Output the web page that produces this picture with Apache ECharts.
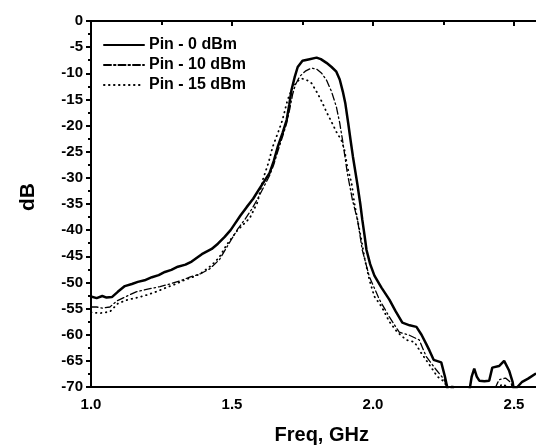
<!DOCTYPE html>
<html>
<head>
<meta charset="utf-8">
<script src="https://cdn.jsdelivr.net/npm/echarts@6/dist/echarts.min.js"></script>
<style>
  html, body { margin: 0; padding: 0; background: #fff; }
  #chart { width: 536px; height: 448px; }
</style>
</head>
<body>
<div id="chart"></div>
<script>
let FONT = '"Liberation Sans", Arial, sans-serif';

let seriesNames = ['Pin - 0 dBm', 'Pin - 10 dBm', 'Pin - 15 dBm'];

// [GHz, dB]
let pin0 = [
  [1.000, -52.7], [1.020, -53.0], [1.040, -52.6], [1.055, -52.9], [1.074, -52.8],
  [1.095, -51.8], [1.120, -50.7], [1.145, -50.3], [1.166, -49.9], [1.190, -49.6],
  [1.216, -49.0], [1.240, -48.6], [1.262, -48.0], [1.285, -47.6], [1.308, -47.0],
  [1.335, -46.6], [1.357, -46.0], [1.393, -44.6], [1.428, -43.6], [1.450, -42.6],
  [1.474, -41.3], [1.495, -40.0], [1.510, -38.8], [1.530, -37.2], [1.552, -35.6],
  [1.575, -34.0], [1.598, -32.0], [1.615, -30.6], [1.633, -29.1], [1.648, -26.8],
  [1.662, -24.1], [1.680, -21.3], [1.694, -18.9], [1.703, -16.0], [1.711, -13.2],
  [1.722, -10.8], [1.733, -8.8], [1.750, -7.6], [1.775, -7.3], [1.800, -7.0],
  [1.815, -7.3], [1.835, -8.0], [1.853, -8.8], [1.870, -9.7], [1.882, -11.2],
  [1.893, -13.5], [1.902, -15.8], [1.912, -19.5], [1.921, -23.0], [1.929, -26.0],
  [1.944, -31.0], [1.955, -35.0], [1.962, -38.0], [1.970, -41.0], [1.977, -43.8],
  [1.990, -46.5], [2.005, -48.7], [2.030, -51.0], [2.058, -53.3], [2.080, -55.5],
  [2.104, -57.7], [2.130, -58.2], [2.154, -58.5], [2.172, -60.0], [2.189, -61.8],
  [2.200, -63.0], [2.215, -64.8], [2.242, -65.3], [2.255, -68.0], [2.265, -70.5],
  [2.275, -71.5], [2.281, -69.8], [2.288, -71.5], [2.300, -72.5], [2.320, -72.5],
  [2.341, -71.0], [2.350, -68.0], [2.359, -66.5], [2.368, -68.0], [2.377, -68.8],
  [2.395, -68.9], [2.412, -68.8], [2.423, -66.3], [2.447, -66.0], [2.465, -65.0],
  [2.483, -66.9], [2.495, -69.0], [2.500, -70.8], [2.512, -70.0], [2.529, -69.0],
  [2.550, -68.4], [2.575, -67.5]
];

let pin10 = [
  [1.000, -54.7], [1.020, -54.7], [1.040, -54.9], [1.067, -54.7], [1.090, -53.6],
  [1.120, -52.8], [1.160, -51.8], [1.209, -51.2], [1.245, -50.8], [1.280, -50.3],
  [1.315, -49.7], [1.350, -49.0], [1.390, -48.3], [1.421, -47.4], [1.456, -45.6],
  [1.480, -43.4], [1.500, -41.6], [1.520, -39.8], [1.545, -38.0], [1.570, -36.0],
  [1.591, -34.0], [1.612, -31.8], [1.633, -29.6], [1.648, -27.5], [1.662, -25.0],
  [1.680, -22.0], [1.694, -19.5], [1.705, -16.8], [1.715, -14.0], [1.725, -12.2],
  [1.740, -10.6], [1.760, -9.6], [1.782, -9.0], [1.800, -9.2], [1.818, -10.0],
  [1.835, -11.3], [1.853, -13.5], [1.870, -16.4], [1.882, -19.5], [1.892, -22.8],
  [1.909, -29.1], [1.927, -34.2], [1.945, -38.0], [1.962, -43.8], [1.987, -48.9],
  [2.023, -53.3], [2.058, -56.6], [2.093, -59.5], [2.129, -60.1], [2.164, -61.0],
  [2.189, -64.2], [2.224, -66.7], [2.253, -68.6], [2.265, -70.5], [2.290, -72.5],
  [2.420, -72.5], [2.435, -70.0], [2.447, -68.6], [2.470, -68.3], [2.490, -69.2],
  [2.500, -72.0], [2.575, -72.0]
];

let pin15 = [
  [1.000, -55.7], [1.030, -55.9], [1.067, -55.6], [1.096, -54.0], [1.131, -53.3],
  [1.165, -52.9], [1.198, -52.4], [1.230, -51.8], [1.262, -51.1], [1.300, -50.3],
  [1.333, -49.5], [1.360, -49.0], [1.386, -48.4], [1.428, -46.7], [1.455, -45.2],
  [1.481, -42.8], [1.520, -40.0], [1.563, -37.7], [1.591, -34.6], [1.609, -30.4],
  [1.630, -27.0], [1.644, -24.1], [1.669, -20.5], [1.679, -18.9], [1.697, -15.1],
  [1.711, -13.2], [1.730, -11.6], [1.747, -11.0], [1.765, -11.3], [1.782, -11.9],
  [1.803, -13.8], [1.821, -15.7], [1.835, -17.4], [1.853, -19.3], [1.870, -21.2],
  [1.888, -22.8], [1.899, -24.7], [1.909, -27.9], [1.924, -31.0], [1.934, -34.8],
  [1.945, -38.0], [1.959, -41.9], [1.970, -45.3], [1.987, -49.5], [2.005, -52.7],
  [2.030, -54.6], [2.058, -57.5], [2.086, -59.5], [2.118, -61.0], [2.147, -61.4],
  [2.171, -63.5], [2.207, -66.3], [2.228, -68.0], [2.253, -69.0], [2.270, -71.0],
  [2.290, -72.5], [2.435, -72.5], [2.455, -69.5], [2.475, -69.8], [2.490, -72.0],
  [2.575, -72.0]
];

let xTicks = { min: 1.0, max: 2.75, interval: 0.5 };
let yTicks = { min: -70, max: 0, interval: 5 };

let chart = echarts.init(document.querySelector('#chart'));

let lineSeries = (name, data, width, dash) => ({
  name: name,
  type: 'line',
  data: data,
  symbol: 'none',
  showSymbol: false,
  clip: true,
  color: '#000',
  lineStyle: { color: '#000', width: width, type: dash, cap: 'round' }
});

chart.setOption({
  animation: false,
  backgroundColor: '#fff',
  color: ['#000'],
  grid: {
    left: 91,
    right: -48.5, // 图被裁切，右边框在画面之外
    top: 21,
    bottom: 61,
    containLabel: false,
    outerBoundsMode: 'none',
    show: true,
    borderColor: '#000',
    borderWidth: 2
  },
  legend: {
    orient: 'vertical',
    left: 98,
    top: 32,
    itemWidth: 40,
    itemHeight: 20,
    itemGap: 4,
    data: seriesNames,
    itemStyle: { opacity: 0 },
    textStyle: { color: '#000', fontFamily: FONT, fontWeight: 'bold', fontSize: 16 }
  },
  xAxis: {
    type: 'value',
    min: xTicks.min,
    max: xTicks.max,
    interval: xTicks.interval,
    name: 'Freq, GHz',
    nameLocation: 'middle',
    nameGap: 38,
    nameTextStyle: { color: '#000', fontFamily: FONT, fontWeight: 'bold', fontSize: 20, padding: [0, 32, 0, 0] },
    axisLine: { lineStyle: { color: '#000', width: 2 } },
    axisTick: { inside: false, length: 5, lineStyle: { color: '#000', width: 2 } },
    minorTick: { show: true, splitNumber: 2, length: 4, lineStyle: { color: '#000', width: 2 } },
    splitLine: { show: false },
    axisLabel: {
      color: '#000', fontFamily: FONT, fontWeight: 'bold', fontSize: 15, margin: 10,
      formatter: v => v.toFixed(1)
    }
  },
  yAxis: {
    type: 'value',
    min: yTicks.min,
    max: yTicks.max,
    interval: yTicks.interval,
    name: 'dB',
    nameLocation: 'middle',
    nameGap: 52,
    nameTextStyle: { color: '#000', fontFamily: FONT, fontWeight: 'bold', fontSize: 21, padding: [0, 0, 0, 14] },
    axisLine: { lineStyle: { color: '#000', width: 2 } },
    axisTick: { inside: false, length: 5, lineStyle: { color: '#000', width: 2 } },
    minorTick: { show: true, splitNumber: 2, length: 3, lineStyle: { color: '#000', width: 2 } },
    splitLine: { show: false },
    axisLabel: { color: '#000', fontFamily: FONT, fontWeight: 'bold', fontSize: 15, margin: 8 }
  },
  series: [
    lineSeries(seriesNames[0], pin0, 2.5, 'solid'),
    lineSeries(seriesNames[1], pin10, 1.3, [7, 3, 1.5, 3]),
    lineSeries(seriesNames[2], pin15, 1.8, [0.5, 4.5])
  ]
});
</script>
</body>
</html>
